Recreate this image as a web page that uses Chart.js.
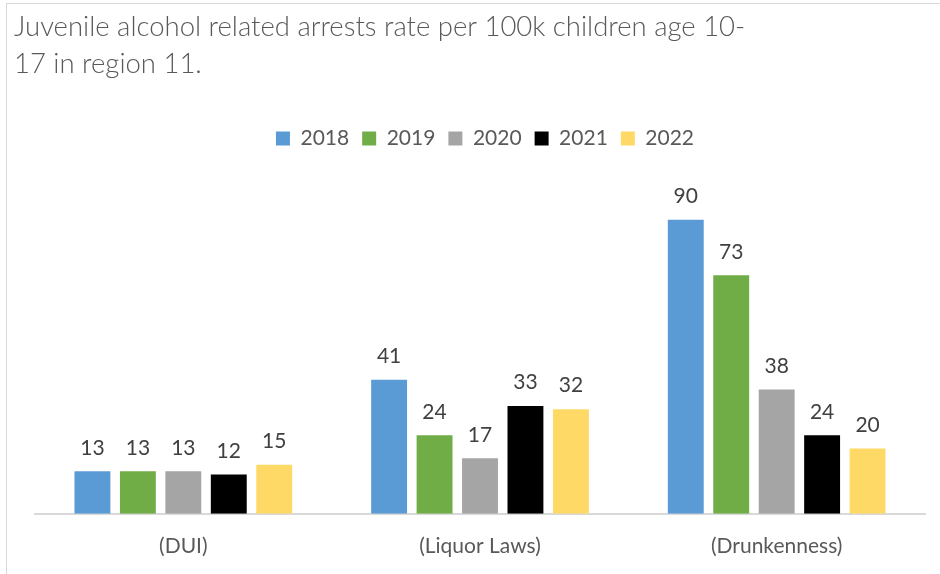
<!DOCTYPE html>
<html lang="en">
<head>
    <meta charset="UTF-8">
    <title>Juvenile alcohol related arrests</title>
    <style>
        html, body { margin: 0; padding: 0; background: #fff; }
        #wrap { position: relative; width: 940px; height: 574px; }
    </style>
</head>
<body>
    <div id="wrap">
        <canvas id="grafica" width="940" height="574"></canvas>
    </div>

    <script src="https://cdn.jsdelivr.net/npm/chart.js@4.4.1/dist/chart.umd.min.js"></script>
    <script>
    // datos del grafico
    const categorias = ['(DUI)', '(Liquor Laws)', '(Drunkenness)'];
    const anios = ['2018', '2019', '2020', '2021', '2022'];
    const valores2018 = [13, 41, 90];
    const valores2019 = [13, 24, 73];
    const valores2020 = [13, 17, 38];
    const valores2021 = [12, 33, 24];
    const valores2022 = [15, 32, 20];
    const tituloLineas = [
        'Juvenile alcohol related arrests rate per 100k children age 10-',
        '17 in region 11.'
    ];

    const colores = ['#5B9BD5', '#70AD47', '#A5A5A5', '#000000', '#FFD966'];
    const series = [valores2018, valores2019, valores2020, valores2021, valores2022];

    // titulo alineado a la izquierda + marco gris
    const tituloPlugin = {
        id: 'tituloPlugin',
        beforeInit(chart) {
            const leyenda = chart.legend;
            // espacio extra debajo de la leyenda
            const fitOriginal = leyenda.fit;
            leyenda.fit = function () {
                fitOriginal.bind(leyenda)();
                this.height += 28;
            };
            // leyenda un poco corrida a la derecha
            const drawOriginal = leyenda.draw;
            leyenda.draw = function () {
                const ctx = chart.ctx;
                ctx.save();
                ctx.translate(5, 0);
                drawOriginal.bind(leyenda)();
                ctx.restore();
            };
        },
        beforeDraw(chart) {
            const ctx = chart.ctx;
            ctx.save();
            ctx.fillStyle = '#fff';
            ctx.fillRect(0, 0, chart.width, chart.height);
            ctx.strokeStyle = '#D9D9D9';
            ctx.lineWidth = 1;
            ctx.strokeRect(6.5, 3.5, 1200, 1200);
            ctx.fillStyle = '#595959';
            ctx.font = '300 27.5px Lato';
            ctx.textBaseline = 'alphabetic';
            ctx.textAlign = 'left';
            tituloLineas.forEach((linea, i) => {
                ctx.fillText(linea, 14, 36 + i * 37);
            });
            ctx.restore();
        }
    };

    // etiquetas de valor encima de cada barra
    const etiquetasPlugin = {
        id: 'etiquetasPlugin',
        afterDatasetsDraw(chart) {
            const ctx = chart.ctx;
            ctx.save();
            ctx.fillStyle = '#404040';
            ctx.font = '21px Lato';
            ctx.textAlign = 'center';
            ctx.textBaseline = 'bottom';
            chart.data.datasets.forEach((ds, i) => {
                const meta = chart.getDatasetMeta(i);
                meta.data.forEach((bar, j) => {
                    ctx.fillText(ds.data[j], bar.x, bar.y - 13);
                });
            });
            ctx.restore();
        }
    };

    new Chart(document.getElementById('grafica'), {
        type: 'bar',
        data: {
            labels: categorias,
            datasets: anios.map((anio, i) => ({
                label: anio,
                data: series[i],
                backgroundColor: colores[i],
                borderWidth: 0,
                categoryPercentage: 0.766,
                barPercentage: 0.79
            }))
        },
        options: {
            responsive: false,
            animation: false,
            layout: {
                padding: { left: 35, right: 15, top: 115, bottom: -5 }
            },
            plugins: {
                title: { display: false },
                tooltip: { enabled: false },
                legend: {
                    position: 'top',
                    labels: {
                        boxWidth: 14,
                        boxHeight: 14,
                        padding: 13,
                        color: '#595959',
                        font: { family: 'Lato', size: 21 }
                    }
                }
            },
            scales: {
                x: {
                    grid: { display: false, drawTicks: false },
                    border: { display: true, color: '#D9D9D9', width: 2 },
                    ticks: {
                        color: '#595959',
                        padding: 20,
                        font: { family: 'Lato', size: 21 }
                    }
                },
                y: {
                    display: false,
                    min: 0,
                    max: 100
                }
            }
        },
        plugins: [tituloPlugin, etiquetasPlugin]
    });
    </script>
</body>
</html>
